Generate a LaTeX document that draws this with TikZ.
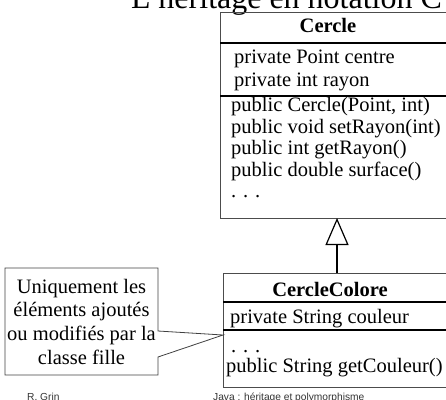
\documentclass[tikz,border=0pt]{standalone}
\usepackage{fontspec}
\setmainfont{Liberation Serif}
\newfontfamily\footfont{Liberation Sans}
\usetikzlibrary{arrows.meta}
\tikzset{
  classbox/.style={draw=black!70, line width=1pt, anchor=north west, inner sep=0pt},
  sepline/.style={line width=1.1pt},
  member/.style={anchor=base west, inner sep=0pt, font=\fontsize{20.5}{21}\selectfont},
  classname/.style={anchor=base, inner sep=0pt, font=\fontsize{20.5}{21}\selectfont\bfseries},
  note/.style={draw=black!75, line width=0.8pt},
  notetext/.style={anchor=base, inner sep=0pt, font=\fontsize{20.5}{23.7}\selectfont},
  inherit/.style={line width=2pt, -{Triangle[open, length=27pt, width=23pt, line width=1.2pt]}},
  footer/.style={anchor=base west, inner sep=0pt, font=\footfont\fontsize{10.2}{12}\selectfont, text=black!80}
}

\begin{document}
\begin{tikzpicture}[x=1pt, y=-1pt]
	\useasboundingbox (0,0) rectangle (446,399);
	\clip (0,0) rectangle (446,399);
	% titre (coupe en haut)
	\node[anchor=base west, inner sep=0pt, font=\fontsize{32}{32}\selectfont] (titre) at (131,8) {L’héritage en notation C};
	% classe Cercle
	\node[classbox, minimum width=240pt, minimum height=206pt] (cercle) at (220,12) {};
	\draw[sepline] (220,43) -- (460,43);
	\draw[sepline] (220,96) -- (460,96);
	\node[classname] (cercleNom) at (328,32) {Cercle};
	\node[member] (attr1) at (234,63) {private Point centre};
	\node[member] (attr2) at (234,86) {private int rayon};
	\foreach \meth [count=\i] in {public Cercle(Point{,} int), public void setRayon(int), public int getRayon(), public double surface(), . . .}
		\node[member] (meth\i) at (231,{111.5+21.5*(\i-1)}) {\meth};
	% classe CercleColore
	\node[classbox, minimum width=237pt, minimum height=114pt] (colore) at (223,273) {};
	\draw[sepline] (223,302) -- (460,302);
	\draw[sepline] (223,330) -- (460,330);
	\node[classname] (coloreNom) at (330,296) {CercleColore};
	\node[member] (attr3) at (230,323) {private String couleur};
	\node[member] (meth6) at (231,352) {. . .};
	\node[member] (meth7) at (226,372) {public String getCouleur()};
	% heritage
	\coordinate (fille) at (337,273);
	\coordinate (mere) at (337,218);
	\draw[inherit] (fille) -- (mere);
	% bulle
	\coordinate (pointe) at (223,335);
	\draw[note] (5,268) -- (158,268) -- (158,331) -- (pointe) -- (158,357) -- (158,375) -- (5,375) -- cycle;
	\foreach \ligne [count=\i] in {Uniquement les, éléments ajoutés, ou modifiés par la, classe fille}
		\node[notetext] (note\i) at (81.5,{293+23.7*(\i-1)}) {\ligne};
	% pied de page
	\node[footer] (auteur) at (27,400) {R. Grin};
	\node[footer] (cours) at (213,400) {Java : héritage et polymorphisme};
\end{tikzpicture}
\end{document}
